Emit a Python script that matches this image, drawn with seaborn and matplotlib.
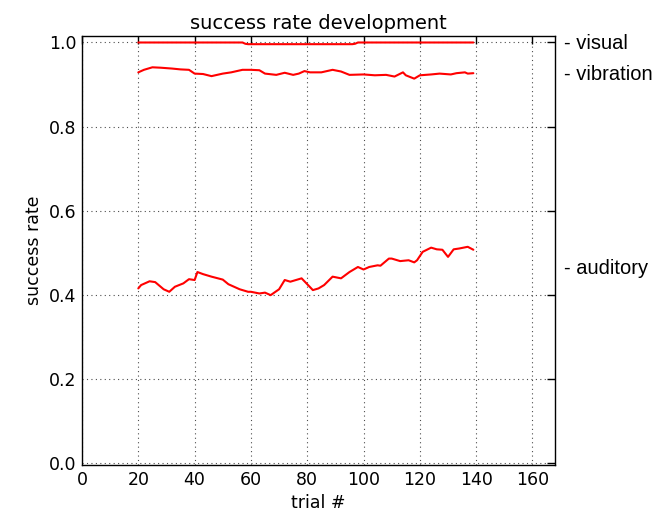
import matplotlib
matplotlib.use("Agg")
import matplotlib.pyplot as plt
import matplotlib.transforms as mtransforms
import numpy as np
import pandas as pd
import seaborn as sns

# ---- data ----
visual_trials = [20, 57, 58, 59, 96, 97, 98, 139]
visual_rate = [1.0, 1.0, 0.997, 0.996, 0.996, 0.997, 1.0, 1.0]

vibration_trials = [20, 22, 25, 28, 32, 35, 38, 40, 43, 46, 50, 53, 57, 60, 63, 65, 69, 72,
                    75, 77, 79, 81, 85, 89, 92, 95, 100, 104, 108, 111, 114, 115, 118, 120,
                    124, 127, 131, 133, 136, 137, 139]
vibration_rate = [0.929, 0.935, 0.941, 0.940, 0.938, 0.936, 0.935, 0.926, 0.925, 0.920, 0.926,
                  0.929, 0.935, 0.935, 0.934, 0.926, 0.923, 0.928, 0.923, 0.926, 0.932, 0.929,
                  0.929, 0.935, 0.931, 0.923, 0.924, 0.922, 0.923, 0.919, 0.929, 0.922, 0.914,
                  0.922, 0.924, 0.926, 0.924, 0.927, 0.929, 0.926, 0.927]

auditory_trials = [20, 21, 24, 26, 29, 31, 33, 36, 38, 40, 41, 43, 46, 50, 52, 56, 59, 60, 63,
                   65, 67, 70, 72, 74, 76, 78, 80, 82, 84, 86, 89, 92, 95, 98, 100, 102, 105,
                   106, 109, 110, 113, 116, 118, 119, 121, 124, 126, 128, 130, 132, 134, 137,
                   139]
auditory_rate = [0.415, 0.423, 0.432, 0.430, 0.413, 0.407, 0.419, 0.427, 0.437, 0.435, 0.454,
                 0.449, 0.443, 0.436, 0.425, 0.413, 0.407, 0.407, 0.403, 0.405, 0.399, 0.413,
                 0.435, 0.431, 0.435, 0.439, 0.425, 0.411, 0.415, 0.423, 0.443, 0.439, 0.454,
                 0.466, 0.460, 0.466, 0.470, 0.469, 0.486, 0.486, 0.480, 0.482, 0.477, 0.482,
                 0.502, 0.512, 0.508, 0.507, 0.490, 0.508, 0.510, 0.514, 0.507]

series_names = ["visual", "vibration", "auditory"]
x_ticks = [0, 20, 40, 60, 80, 100, 120, 140, 160]
y_ticks = [0.0, 0.2, 0.4, 0.6, 0.8, 1.0]

series = {
    "visual": (visual_trials, visual_rate),
    "vibration": (vibration_trials, vibration_rate),
    "auditory": (auditory_trials, auditory_rate),
}

sns.set_style("white")
plt.rcParams["font.family"] = ["DejaVu Sans"]
plt.rcParams["text.color"] = "black"
plt.rcParams["axes.labelcolor"] = "black"
plt.rcParams["xtick.color"] = "black"
plt.rcParams["ytick.color"] = "black"

fig = plt.figure(figsize=(6.58, 5.17), dpi=100)
ax = fig.add_axes([0.1246, 0.1006, 0.7189, 0.8294])

for name in series_names:
    t, r = series[name]
    df = pd.DataFrame({"trial": t, "rate": r})
    sns.lineplot(data=df, x="trial", y="rate", ax=ax, color="red", linewidth=1.5,
                 estimator=None)

ax.set_xlim(0, 168)
ax.set_ylim(-0.005, 1.015)
ax.set_xticks(x_ticks)
ax.set_yticks(y_ticks)
ax.set_yticklabels([f"{v:.1f}" for v in y_ticks])
ax.tick_params(direction="in", length=6, width=1, top=True, right=True,
               labelsize=12.5, color="black", labelcolor="black", pad=4)
ax.grid(True, color="black", linestyle=(0, (1, 3)), linewidth=0.8, alpha=0.7)
for s in ax.spines.values():
    s.set_color("black")
    s.set_linewidth(1.0)

ax.set_title("success rate development", fontsize=14, pad=5, color="black")
ax.set_xlabel("trial #", fontsize=12.5, color="black")
ax.set_ylabel("success rate", fontsize=12.5, color="black")

trans = mtransforms.blended_transform_factory(ax.transAxes, ax.transData)
label_pos = {"visual": 0.998, "vibration": 0.925, "auditory": 0.463}
for name in series_names:
    ax.text(1.02, label_pos[name], "- " + name, transform=trans, ha="left", va="center",
            fontsize=14.5, family=["Liberation Sans"], color="black")

fig.savefig("out.png", dpi=100)
